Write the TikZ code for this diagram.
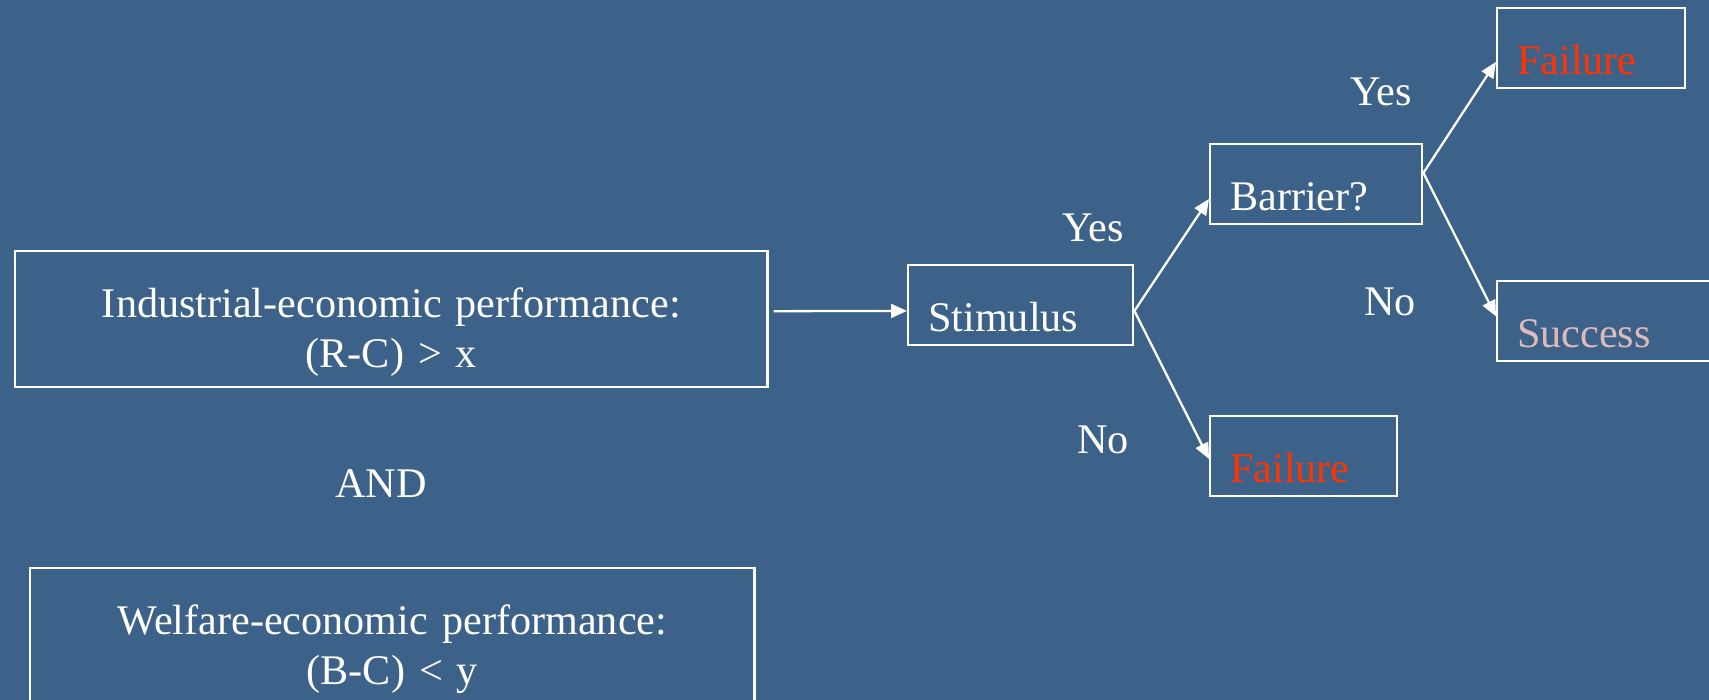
\documentclass[tikz,border=0pt]{standalone}
\usepackage{fontspec}
\setmainfont{Liberation Serif}
\usetikzlibrary{arrows.meta}
\definecolor{slideblue}{RGB}{61,98,137}
\definecolor{failred}{RGB}{255,51,0}
\definecolor{succpink}{RGB}{221,187,187}

\begin{document}
\begin{tikzpicture}[x=0.01cm, y=-0.01cm,
    every node/.style={text=white, font=\fontsize{12}{14.4}\selectfont},
    bigbox/.style={draw=white, line width=0.65pt, anchor=north west, inner sep=0pt,
        align=center, text height=0.66cm, text depth=0.70cm},
    smallbox/.style={draw=white, line width=0.65pt, anchor=north west, inner ysep=0pt,
        inner xsep=0.2cm, align=left, text height=0.66cm, text depth=0.135cm},
    arr/.style={white, line width=0.65pt, -{Triangle[length=4.5pt, width=3.9pt]}}]
        \useasboundingbox (0,0) rectangle (1709,700);
        \fill[slideblue] (0,0) rectangle (1709,700);

        % Linker kolom
        \node[bigbox, text width=7.52cm] (ind) at (14,250) {Industrial-economic performance:\\(R-C) > x};
        \node[anchor=base] (and) at (381,497) {AND};
        \node[bigbox, text width=7.24cm] (welf) at (29,567) {Welfare-economic performance:\\(B-C) < y};

        % Beslisboom
        \node[smallbox, text width=1.85cm] (stim) at (907,264) {Stimulus};
        \node[smallbox, text width=1.72cm] (barr) at (1209,143) {Barrier?};
        \node[smallbox, text width=1.47cm, text=failred] (failA) at (1209,415) {Failure};
        \node[smallbox, text width=1.48cm, text=failred] (failB) at (1496,7) {Failure};
        \node[smallbox, text width=2.0cm, text=succpink] (succ) at (1496,280) {Success};

        % Ja / nee
        \node[anchor=base] (yesA) at (1093,241) {Yes};
        \node[anchor=base] (noA) at (1103,453) {No};
        \node[anchor=base] (yesB) at (1381,105) {Yes};
        \node[anchor=base] (noB) at (1390,315) {No};

        % Pijlen
        \draw[arr] ([xshift=0.05cm, yshift=0.08cm]ind.east) -- ([yshift=-0.06cm]stim.west);
        \draw[arr] ([yshift=-0.06cm]stim.east) -- ([yshift=-0.15cm]barr.west);
        \draw[arr] ([yshift=-0.06cm]stim.east) -- ([yshift=-0.03cm]failA.west);
        \draw[arr] ([yshift=0.11cm]barr.east) -- ([yshift=-0.14cm]failB.west);
        \draw[arr] ([yshift=0.11cm]barr.east) -- ([yshift=0.045cm]succ.west);
    \end{tikzpicture}
\end{document}
